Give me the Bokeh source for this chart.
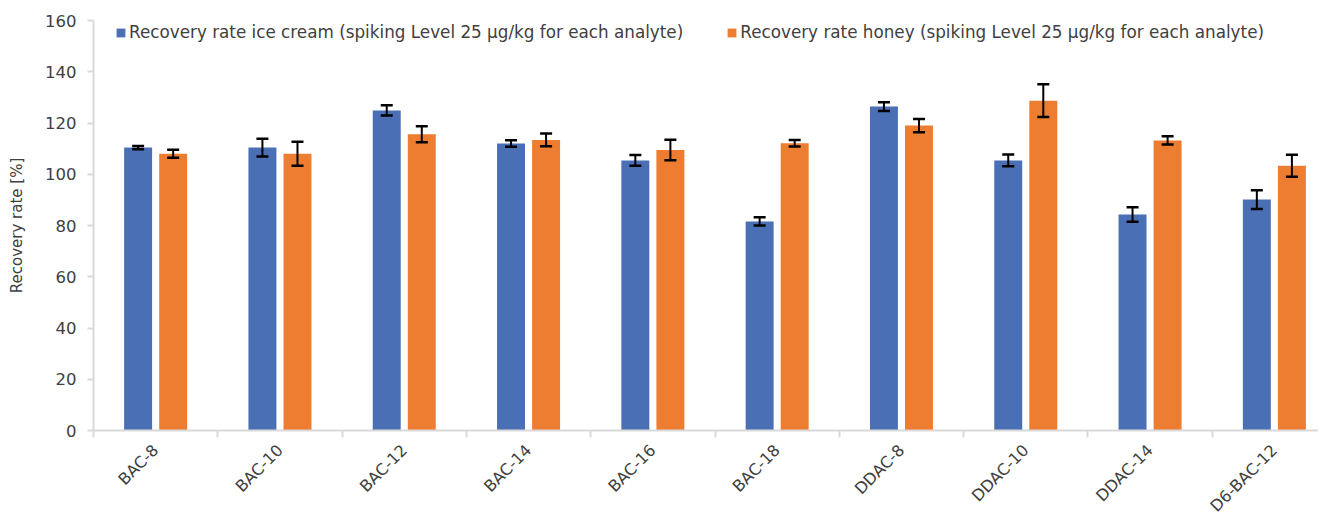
import numpy as np
from bokeh.plotting import figure
from bokeh.models import (ColumnDataSource, Range1d, FixedTicker, Whisker, TeeHead,
                          Legend, LegendItem)
from bokeh.transform import dodge
from bokeh.embed import file_html
from bokeh.resources import INLINE

categories = ["BAC-8", "BAC-10", "BAC-12", "BAC-14", "BAC-16", "BAC-18",
              "DDAC-8", "DDAC-10", "DDAC-14", "D6-BAC-12"]
ice_cream = [110.4, 110.4, 124.9, 112.0, 105.4, 81.6, 126.4, 105.4, 84.3, 90.1]
ice_cream_err = [0.6, 3.5, 2.0, 1.3, 2.1, 1.6, 1.7, 2.3, 2.8, 3.7]
honey = [108.0, 108.0, 115.6, 113.4, 109.5, 112.1, 119.0, 128.7, 113.2, 103.3]
honey_err = [1.6, 4.7, 3.1, 2.5, 4.0, 1.3, 2.6, 6.4, 1.6, 4.3]
y_ticks = [0, 20, 40, 60, 80, 100, 120, 140, 160]

label_ice = "Recovery rate ice cream (spiking Level 25 \u00b5g/kg for each analyte)"
label_honey = "Recovery rate honey (spiking Level 25 \u00b5g/kg for each analyte)"

FONT = "DejaVu Sans"
TXT = "#404040"
BLUE = "#4A6FB5"
ORANGE = "#ED7D31"
AXIS = "#d9d9d9"

n = len(categories)
centers = (np.arange(n) + 0.5).tolist()
bounds = np.arange(n + 1).tolist()

src = ColumnDataSource(dict(
    x=centers,
    ice=ice_cream, ice_lo=[v - e for v, e in zip(ice_cream, ice_cream_err)],
    ice_hi=[v + e for v, e in zip(ice_cream, ice_cream_err)],
    honey=honey, honey_lo=[v - e for v, e in zip(honey, honey_err)],
    honey_hi=[v + e for v, e in zip(honey, honey_err)],
))

W, H = 1318, 526
BL, BT = 93, 20
FRAME_H = 410
p = figure(width=W, height=H, output_backend="svg", toolbar_location=None,
           x_range=Range1d(0, 9.855), y_range=Range1d(0, 160),
           min_border_left=BL, min_border_top=BT, min_border_right=0,
           min_border_bottom=H - BT - FRAME_H)
p.outline_line_color = None
p.xgrid.grid_line_color = None
p.ygrid.grid_line_color = None

w = 0.225
off = 0.141
r1 = p.vbar(x=dodge("x", -off), top="ice", width=w, source=src,
            fill_color=BLUE, line_color=None)
r2 = p.vbar(x=dodge("x", off), top="honey", width=w, source=src,
            fill_color=ORANGE, line_color=None)

for base, lo, hi in [(-off, "ice_lo", "ice_hi"), (off, "honey_lo", "honey_hi")]:
    wk = Whisker(base=dodge("x", base), lower=lo, upper=hi, source=src,
                 line_color="black", line_width=2, level="overlay",
                 upper_head=TeeHead(size=12, line_color="black", line_width=2.5),
                 lower_head=TeeHead(size=12, line_color="black", line_width=2.5))
    p.add_layout(wk)

# x axis
xa = p.xaxis[0]
xa.ticker = FixedTicker(ticks=centers, minor_ticks=bounds)
xa.major_label_overrides = {c: lab for c, lab in zip(centers, categories)}
xa.major_label_orientation = np.pi / 4
xa.major_tick_out = 0
xa.major_tick_in = 0
xa.minor_tick_out = 7
xa.minor_tick_in = 0
xa.minor_tick_line_color = AXIS
xa.minor_tick_line_width = 2
xa.axis_line_color = AXIS
xa.axis_line_width = 2
xa.major_label_standoff = 10
xa.major_label_text_font = FONT
xa.major_label_text_font_size = "16px"
xa.major_label_text_color = TXT

# y axis
ya = p.yaxis[0]
ya.ticker = FixedTicker(ticks=y_ticks)
ya.minor_tick_line_color = None
ya.major_tick_out = 6
ya.major_tick_in = 0
ya.major_tick_line_color = AXIS
ya.major_tick_line_width = 2
ya.axis_line_color = AXIS
ya.axis_line_width = 2
ya.major_label_standoff = 11
ya.major_label_text_font = FONT
ya.major_label_text_font_size = "16.5px"
ya.major_label_text_color = TXT
ya.axis_label = "Recovery rate [%]"
ya.axis_label_text_font = FONT
ya.axis_label_text_font_size = "15px"
ya.axis_label_text_font_style = "normal"
ya.axis_label_text_color = TXT
ya.axis_label_standoff = 16

legend = Legend(items=[LegendItem(label=label_ice, renderers=[r1]),
                       LegendItem(label=label_honey, renderers=[r2])],
                orientation="horizontal")
legend.border_line_color = None
legend.background_fill_alpha = 0
legend.margin = 0
legend.padding = 0
legend.glyph_width = 11
legend.glyph_height = 11
legend.label_standoff = 3
legend.spacing = 43
legend.label_text_font = FONT
legend.label_text_font_size = "16.8px"
legend.label_text_color = TXT
legend.label_height = 12
legend.label_text_baseline = "middle"
legend.location = (22, FRAME_H - 22)
p.add_layout(legend, "center")

open("out.html", "w").write(file_html(p, INLINE))
